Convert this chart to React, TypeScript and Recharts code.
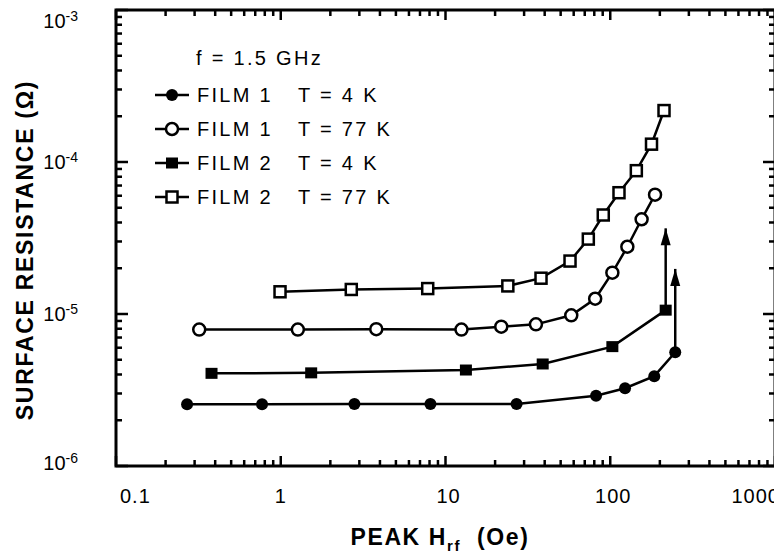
import React from "react";
import { LineChart, Line, XAxis, YAxis, ReferenceArea } from "recharts";

// peak H_rf (Oe) and surface resistance (ohm)
const film1Cold_h = [0.27, 0.77, 2.8, 8.1, 27, 82, 123, 185, 248];
const film1Cold_r = [2.55e-6, 2.55e-6, 2.56e-6, 2.56e-6, 2.56e-6, 2.9e-6, 3.25e-6, 3.9e-6, 5.6e-6];

const film1Warm_h = [0.32, 1.27, 3.8, 12.5, 21.8, 35.4, 58, 81, 103, 127, 155, 187];
const film1Warm_r = [7.9e-6, 7.9e-6, 7.95e-6, 7.9e-6, 8.25e-6, 8.55e-6, 9.8e-6, 1.26e-5, 1.87e-5, 2.77e-5, 4.2e-5, 6.1e-5];

const film2Cold_h = [0.38, 1.53, 13.3, 38.9, 103, 217];
const film2Cold_r = [4.07e-6, 4.1e-6, 4.28e-6, 4.69e-6, 6.1e-6, 1.06e-5];

const film2Warm_h = [0.99, 2.68, 7.8, 23.9, 38, 57, 73.6, 90.7, 113, 144, 178, 212];
const film2Warm_r = [1.4e-5, 1.45e-5, 1.47e-5, 1.53e-5, 1.72e-5, 2.23e-5, 3.11e-5, 4.48e-5, 6.28e-5, 8.77e-5, 1.31e-4, 2.18e-4];

// "lower bound" arrows
const arrowA_h = [217, 217];
const arrowA_r = [1.06e-5, 3.66e-5];
const arrowB_h = [248, 248];
const arrowB_r = [5.6e-6, 1.98e-5];

const xDecades = [0.1, 1, 10, 100];
const xLast = 1000;
const yDecades = [1e-6, 1e-5, 1e-4];
const yLast = 1e-3;
const mantissas = [1, 2, 3, 4, 5, 6, 7, 8, 9];

const xTicks = [...xDecades.flatMap((d) => mantissas.map((m) => d * m)), xLast];
const yTicks = [...yDecades.flatMap((d) => mantissas.map((m) => d * m)), yLast];

const toRows = (h: number[], r: number[]) => h.map((v, i) => ({ h: v, r: r[i] }));

const W = 774;
const H = 546;
const LEFT = 108;
const RIGHT = 767;
const TOP = 2;
const BOTTOM = 458;
const FONT = "'Liberation Sans', Arial, sans-serif";

const isDecade = (v: number) => Math.abs(Math.log10(v) - Math.round(Math.log10(v))) < 1e-6;

const XTick = (props: any) => {
  const { x, payload } = props;
  const v = payload.value;
  const major = isDecade(v);
  const len = major ? 10 : 6;
  let anchor = "middle";
  let tx = x;
  if (v < 0.11) {
    anchor = "start";
    tx = x + 4;
  } else if (v > 999) {
    anchor = "end";
    tx = x + 5;
  } else if (v > 5) {
    tx = x + 3;
  }
  const label = v < 1 ? "0.1" : String(Math.round(v));
  return (
    <g>
      <line x1={x} x2={x} y1={BOTTOM} y2={BOTTOM - len} stroke="#000" strokeWidth={2.5} />
      <line x1={x} x2={x} y1={TOP} y2={TOP + len} stroke="#000" strokeWidth={2.5} />
      {major && (
        <text x={tx} y={495} textAnchor={anchor} fontSize={20} fontFamily={FONT} letterSpacing={1} fill="#000">
          {label}
        </text>
      )}
    </g>
  );
};

const YTick = (props: any) => {
  const { y, payload } = props;
  const v = payload.value;
  const major = isDecade(v);
  const len = major ? 12 : 6;
  const exp = Math.round(Math.log10(v));
  let ty = y + 7;
  if (exp === -3) ty = y + 18;
  if (exp === -6) ty = y + 4;
  return (
    <g>
      <line x1={LEFT} x2={LEFT + len} y1={y} y2={y} stroke="#000" strokeWidth={2.5} />
      <line x1={RIGHT} x2={RIGHT - len} y1={y} y2={y} stroke="#000" strokeWidth={2.5} />
      {major && (
        <text x={LEFT - 38} y={ty} textAnchor="end" fontSize={20} fontFamily={FONT} fill="#000">
          10
          <tspan dy={-7} fontSize={14}>{`-${-exp}`}</tspan>
        </text>
      )}
    </g>
  );
};

type Mark = "fcircle" | "ocircle" | "fsquare" | "osquare";

const drawMark = (kind: Mark, cx: number, cy: number, key?: string) => {
  if (kind === "fcircle") return <circle key={key} cx={cx} cy={cy} r={6} fill="#000" />;
  if (kind === "ocircle")
    return <circle key={key} cx={cx} cy={cy} r={6} fill="#fff" stroke="#000" strokeWidth={2.5} />;
  if (kind === "fsquare")
    return <rect key={key} x={cx - 6} y={cy - 5.5} width={12} height={11} fill="#000" />;
  return <rect key={key} x={cx - 5.5} y={cy - 5.5} width={11} height={11} fill="#fff" stroke="#000" strokeWidth={2.5} />;
};

const dotOf = (kind: Mark) => (p: any) => drawMark(kind, p.cx, p.cy, `d${p.index}`);

const arrowDot = (p: any) =>
  p.index === 1 ? (
    <polygon key={`a${p.index}`} points={`${p.cx},${p.cy} ${p.cx - 5},${p.cy + 17} ${p.cx + 5},${p.cy + 17}`} fill="#000" />
  ) : (
    <g key={`a${p.index}`} />
  );

const series: { name: string; temp: string; h: number[]; r: number[]; mark: Mark }[] = [
  { name: "FILM 1", temp: "T = 4 K", h: film1Cold_h, r: film1Cold_r, mark: "fcircle" },
  { name: "FILM 1", temp: "T = 77 K", h: film1Warm_h, r: film1Warm_r, mark: "ocircle" },
  { name: "FILM 2", temp: "T = 4 K", h: film2Cold_h, r: film2Cold_r, mark: "fsquare" },
  { name: "FILM 2", temp: "T = 77 K", h: film2Warm_h, r: film2Warm_r, mark: "osquare" },
];

const legendRows = [87, 121, 155, 189];
const legendText = { position: "absolute" as const, top: 0, fontSize: 20, letterSpacing: 2.3, lineHeight: "22px", whiteSpace: "nowrap" as const };

export default function App() {
  return (
    <div style={{ position: "relative", width: W, height: H, fontFamily: FONT, color: "#000" }}>
      <LineChart width={W} height={H} margin={{ top: TOP, right: W - RIGHT, left: 38, bottom: 38 }}>
        <XAxis
          dataKey="h"
          type="number"
          scale="log"
          domain={[0.1, 1000]}
          allowDataOverflow
          ticks={xTicks}
          interval={0}
          tick={<XTick />}
          tickLine={false}
          axisLine={false}
          height={50}
        />
        <YAxis
          dataKey="r"
          type="number"
          scale="log"
          domain={[1e-6, 1e-3]}
          allowDataOverflow
          ticks={yTicks}
          interval={0}
          tick={<YTick />}
          tickLine={false}
          axisLine={false}
          width={70}
        />
        <ReferenceArea x1={0.1} x2={1000} y1={1e-6} y2={1e-3} fill="none" stroke="#000" strokeWidth={3} ifOverflow="visible" />
        {series.map((s, i) => (
          <Line
            key={i}
            data={toRows(s.h, s.r)}
            dataKey="r"
            stroke="#000"
            strokeWidth={2.5}
            dot={dotOf(s.mark)}
            activeDot={false}
            isAnimationActive={false}
          />
        ))}
        <Line data={toRows(arrowA_h, arrowA_r)} dataKey="r" stroke="#000" strokeWidth={2.5} dot={arrowDot} activeDot={false} isAnimationActive={false} />
        <Line data={toRows(arrowB_h, arrowB_r)} dataKey="r" stroke="#000" strokeWidth={2.5} dot={arrowDot} activeDot={false} isAnimationActive={false} />
      </LineChart>

      <div style={{ ...legendText, left: 188, top: 39 }}>f = 1.5 GHz</div>
      {series.map((s, i) => (
        <div key={i} style={{ position: "absolute", left: 0, top: legendRows[i] - 11, height: 22 }}>
          <svg width={40} height={22} style={{ position: "absolute", left: 145, top: 0 }}>
            <line x1={2} x2={36} y1={11} y2={11} stroke="#000" strokeWidth={2.5} />
            {drawMark(s.mark, 19, 11)}
          </svg>
          <span style={{ ...legendText, left: 189 }}>{s.name}</span>
          <span style={{ ...legendText, left: 290 }}>{s.temp}</span>
        </div>
      ))}

      <div
        style={{
          position: "absolute",
          left: 232,
          top: 514,
          width: 400,
          height: 30,
          lineHeight: "30px",
          textAlign: "center",
          fontWeight: 700,
          fontSize: 23,
          letterSpacing: 1.6,
          whiteSpace: "nowrap",
        }}
      >
        PEAK H<sub style={{ fontSize: 15 }}>rf</sub>&nbsp;&nbsp;(Oe)
      </div>
      <div
        style={{
          position: "absolute",
          left: 17 - 200,
          top: 242 - 15,
          width: 400,
          height: 30,
          lineHeight: "30px",
          textAlign: "center",
          fontWeight: 700,
          fontSize: 23,
          letterSpacing: 1.7,
          whiteSpace: "nowrap",
          transform: "rotate(-90deg)",
        }}
      >
        SURFACE RESISTANCE (Ω)
      </div>
    </div>
  );
}
